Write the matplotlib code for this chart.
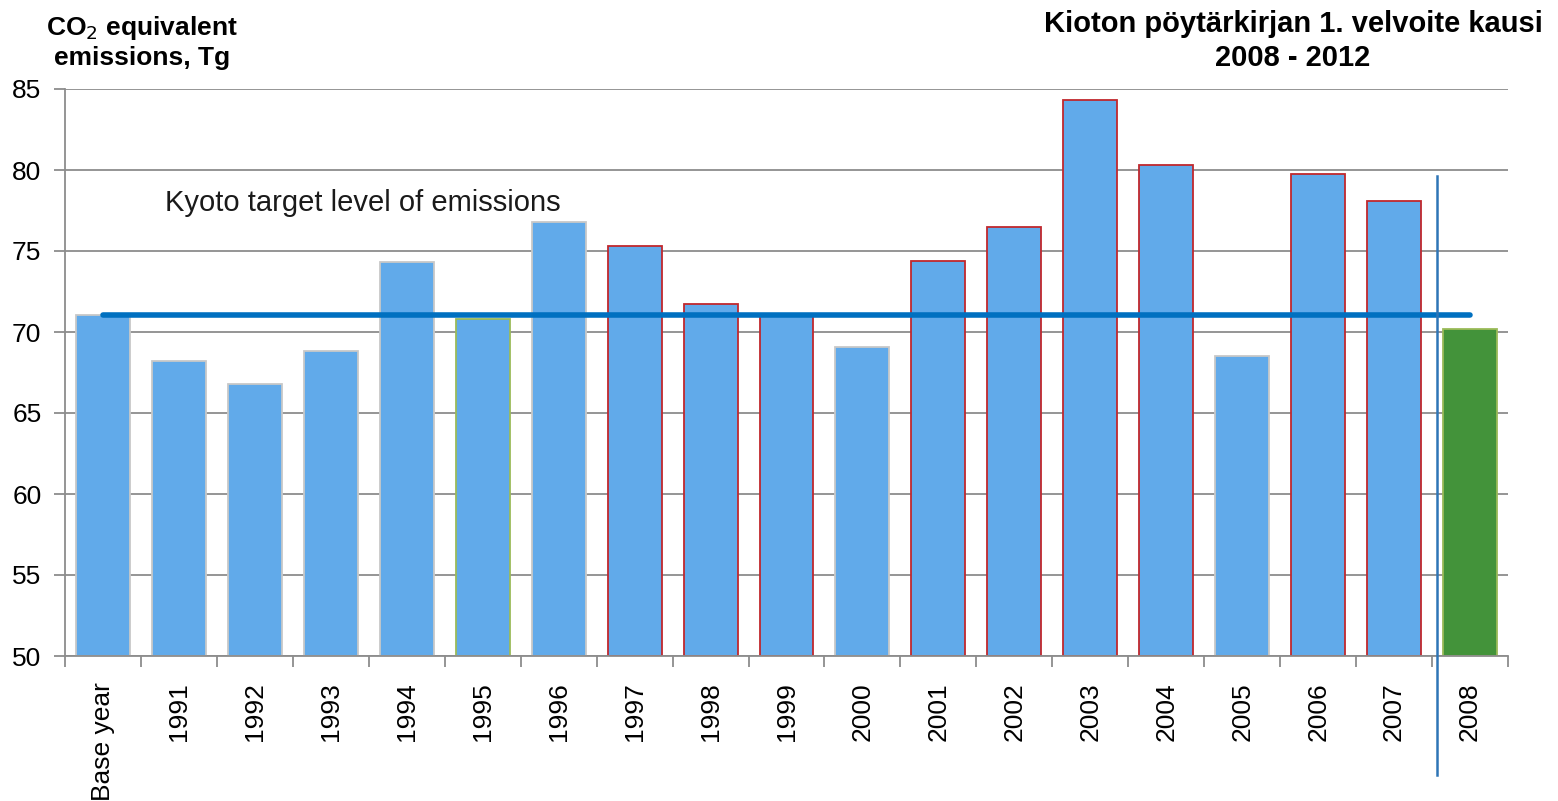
import matplotlib
matplotlib.use("Agg")
import matplotlib.pyplot as plt
import matplotlib.transforms as mtransforms

plt.rcParams['font.family'] = ['Liberation Sans', 'DejaVu Sans']

categories = ["Base year", "1991", "1992", "1993", "1994", "1995", "1996", "1997",
              "1998", "1999", "2000", "2001", "2002", "2003", "2004", "2005",
              "2006", "2007", "2008"]
emissions = [71.05, 68.2, 66.8, 68.8, 74.3, 70.8, 76.8, 75.3, 71.7, 71.05, 69.1,
             74.4, 76.5, 84.3, 80.3, 68.5, 79.75, 78.1, 70.2]
edge_kind = ["grey", "grey", "grey", "grey", "grey", "green", "grey", "red",
             "red", "red", "grey", "red", "red", "red", "red", "grey",
             "red", "red", "green"]
kyoto_target = 71.05
yticks = [50, 55, 60, 65, 70, 75, 80, 85]

edge_colors = {"grey": "#C8C8C8", "green": "#9BBB59", "red": "#C0282D"}
face = ["#43933A" if c == "2008" else "#61AAEA" for c in categories]

fig = plt.figure(figsize=(15.58, 8.01), dpi=100)
ax = fig.add_axes([65 / 1558, 1 - 656 / 801, (1508 - 65) / 1558, (656 - 89) / 801])

x = list(range(len(categories)))
ax.bar(x, [v - 50 for v in emissions], bottom=50, width=0.71, color=face,
       edgecolor=[edge_colors[k] for k in edge_kind], linewidth=1.3, zorder=2)

ax.set_xlim(-0.5, len(categories) - 0.5)
ax.set_ylim(50, 85)
ax.set_yticks(yticks)
ax.tick_params(axis='y', labelsize=19, length=8, width=1.3, color="#8C8C8C", pad=9)
ax.yaxis.grid(True, color="#8C8C8C", linewidth=1.3, zorder=0)
ax.set_axisbelow(True)

# x ticks at category boundaries, labels at centers
ax.set_xticks([i - 0.5 for i in range(len(categories) + 1)])
ax.set_xticklabels([])
ax.set_xticks(x, minor=True)
ax.set_xticklabels(categories, minor=True, rotation=90, fontsize=19)
ax.tick_params(axis='x', which='major', length=8, width=1.3, color="#8C8C8C")
ax.tick_params(axis='x', which='minor', length=0, pad=19)
for lab in ax.get_xticklabels(minor=True):
    lab.set_va('top')

for s in ["top", "right"]:
    ax.spines[s].set_visible(False)
for s in ["left", "bottom"]:
    ax.spines[s].set_color("#8C8C8C")
    ax.spines[s].set_linewidth(1.3)

# Kyoto target line
ax.plot([x[0], x[-1]], [kyoto_target, kyoto_target], color="#0070C0", linewidth=4,
        solid_capstyle='round', zorder=3)
ax.text(0.82, 77.96, "Kyoto target level of emissions", fontsize=21, va='center',
        ha='left', color="#1a1a1a")

# Vertical separator line
trans = mtransforms.blended_transform_factory(ax.transData, ax.transAxes)
ax.plot([17.56, 17.56], [(79.6 - 50) / 35, -(775 - 656) / (656 - 89)], color="#2E75B6",
        linewidth=1.8, transform=trans, clip_on=False, zorder=3)

fig.text(142 / 1558, 1 - 28 / 801, "CO$_2$ equivalent", fontsize=19, fontweight='bold',
         ha='center', va='center')
fig.text(142 / 1558, 1 - 58 / 801, "emissions, Tg", fontsize=19, fontweight='bold',
         ha='center', va='center')
fig.text(1293 / 1558, 1 - 24 / 801, "Kioton pöytärkirjan 1. velvoite kausi", fontsize=21,
         fontweight='bold', ha='center', va='center')
fig.text(1293 / 1558, 1 - 58 / 801, "2008 - 2012", fontsize=21, fontweight='bold',
         ha='center', va='center')

fig.savefig("out.png", dpi=100)
